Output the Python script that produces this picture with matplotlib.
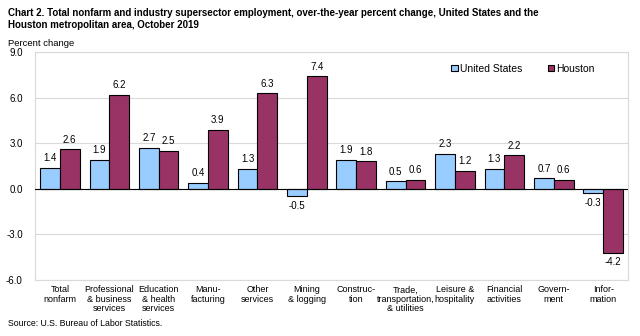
import numpy as np
import matplotlib.pyplot as plt

plt.rcParams['font.family'] = ['Liberation Sans', 'DejaVu Sans']

# Data
categories = ["Total\nnonfarm", "Professional\n& business\nservices", "Education\n& health\nservices",
              "Manu-\nfacturing", "Other\nservices", "Mining\n& logging", "Construc-\ntion",
              "Trade,\ntransportation,\n& utilities", "Leisure &\nhospitality", "Financial\nactivities",
              "Govern-\nment", "Infor-\nmation"]
us = [1.4, 1.9, 2.7, 0.4, 1.3, -0.5, 1.9, 0.5, 2.3, 1.3, 0.7, -0.3]
houston = [2.6, 6.2, 2.5, 3.9, 6.3, 7.4, 1.8, 0.6, 1.2, 2.2, 0.6, -4.2]
yticks = [-6.0, -3.0, 0.0, 3.0, 6.0, 9.0]

fig = plt.figure(figsize=(6.4, 3.36), dpi=100)
ax = fig.add_axes([0.055, 0.167, 0.926, 0.678])

x = np.arange(len(categories))
w = 0.4
b1 = ax.bar(x - w / 2, us, w, color="#99ccff", edgecolor="black", linewidth=0.8, label="United States", zorder=3)
b2 = ax.bar(x + w / 2, houston, w, color="#993366", edgecolor="black", linewidth=0.8, label="Houston", zorder=3)

for bars, vals in ((b1, us), (b2, houston)):
    for rect, v in zip(bars, vals):
        cx = rect.get_x() + rect.get_width() / 2
        if v >= 0:
            ax.text(cx, v + 0.3, f"{v:.1f}", ha="center", va="bottom", fontsize=7)
        else:
            ax.text(cx, v - 0.3, f"{v:.1f}", ha="center", va="top", fontsize=7)

ax.set_ylim(-6, 9)
ax.set_xlim(-0.5, len(categories) - 0.5)
ax.set_yticks(yticks)
ax.set_yticklabels([f"{t:.1f}" for t in yticks], fontsize=7)
ax.set_xticks(x)
ax.set_xticklabels(categories, fontsize=6.5, linespacing=1.05)
ax.tick_params(axis="both", length=0, pad=4)
ax.tick_params(axis="y", pad=9)
ax.yaxis.grid(True, color="#d9d9d9", linewidth=0.8, zorder=0)
ax.axhline(0, color="black", linewidth=0.8, zorder=4)
for s in ax.spines.values():
    s.set_color("#d9d9d9")
    s.set_linewidth(0.8)

ax.legend(loc="upper right", bbox_to_anchor=(0.96, 0.99), ncol=2, frameon=False, fontsize=7.5,
          handlelength=0.6, handleheight=0.6, handletextpad=0.2, columnspacing=2.5)

fig.text(0.012, 0.975, "Chart 2. Total nonfarm and industry supersector employment, over-the-year percent change, United States and the\nHouston metropolitan area, October 2019",
         fontsize=7, fontweight="bold", va="top", ha="left", linespacing=1.2)
fig.text(0.012, 0.858, "Percent change", fontsize=6.8, ha="left", va="bottom")
fig.text(0.012, 0.025, "Source: U.S. Bureau of Labor Statistics.", fontsize=6.3, ha="left", va="bottom")

fig.savefig("out.png", dpi=100)
